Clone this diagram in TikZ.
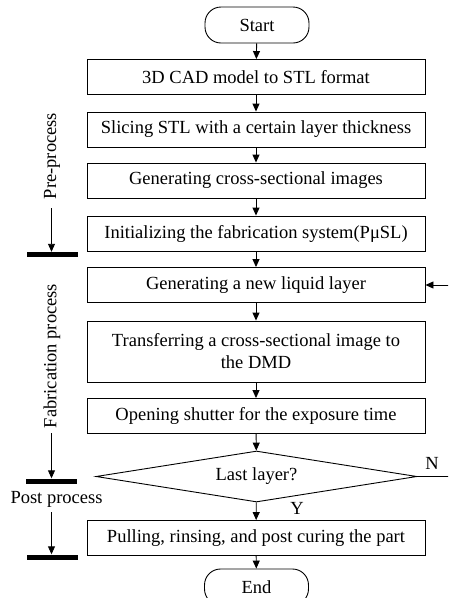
\documentclass[tikz,border=0pt]{standalone}
\usepackage{fontspec}
\setmainfont{Liberation Serif}
\usetikzlibrary{arrows.meta,shapes.geometric}

\tikzset{
  every node/.style={font=\fontsize{18.5}{22}\selectfont},
  proc/.style={draw, line width=0.9pt, minimum width=338pt, minimum height=35pt, inner sep=2pt, align=center},
  term/.style={draw, line width=0.9pt, rounded corners=16pt, minimum width=104pt, minimum height=36pt, inner sep=0pt},
  decide/.style={draw, line width=0.9pt, diamond, aspect=6.3, minimum width=321pt, minimum height=51pt, inner sep=0pt},
  flow/.style={line width=0.9pt, -{Triangle[length=8pt,width=7pt]}},
  stagebar/.style={fill=black, minimum width=51pt, minimum height=5pt, inner sep=0pt},
  stage/.style={inner sep=0pt}
}

\begin{document}
\begin{tikzpicture}[x=1pt, y=-1pt]
\clip (0,0) rectangle (448,598);

% main flow
\node[term] (start) at (257,25) {Start};
\node[proc] (b1) at (256,77) {3D CAD model to STL format};
\node[proc] (b2) at (256,129.5) {Slicing STL with a certain layer thickness};
\node[proc] (b3) at (256,180.5) {Generating cross-sectional images};
\node[proc] (b4) at (256,233.5) {Initializing the fabrication system(PμSL)};
\node[proc] (b5) at (256,285) {Generating a new liquid layer};
\node[proc, minimum height=61pt] (b6) at (256,351.5) {Transferring a cross-sectional image to\\the DMD};
\node[proc] (b7) at (256,416) {Opening shutter for the exposure time};
\node[decide] (dec) at (256.5,476.5) {Last layer?};
\node[proc] (b8) at (256,538) {Pulling, rinsing, and post curing the part};
\node[term] (end) at (256.5,587) {End};

\draw[flow] (start) -- (b1);
\draw[flow] (b1) -- (b2);
\draw[flow] (b2) -- (b3);
\draw[flow] (b3) -- (b4);
\draw[flow] (b4) -- (b5);
\draw[flow] (b5) -- (b6);
\draw[flow] (b6) -- (b7);
\draw[flow] (b7) -- (dec);
\draw[flow] (dec) -- (b8);
\draw[flow] (b8) -- (end);

% loop back for further layers
\coordinate (loop) at (470,476.5);
\draw[flow] (dec.east) -- (loop) |- (b5.east);
\node (nlab) at (432,463) {N};
\node (ylab) at (297,508) {Y};

% process stages on the left
\node[stage, rotate=90] (pre) at (52,156) {Pre-process};
\coordinate (preA) at (51.5,208);
\node[stagebar] (bar1) at (52,254.5) {};
\draw[flow] (preA) -- (preA |- bar1.north);

\node[stage, rotate=90] (fab) at (52,356) {Fabrication process};
\coordinate (fabA) at (51.5,433);
\node[stagebar] (bar2) at (51,481) {};
\draw[flow] (fabA) -- (fabA |- bar2.north);

\node[stage] (post) at (56.5,499) {Post process};
\coordinate (postA) at (51.5,512);
\node[stagebar] (bar3) at (52,557) {};
\draw[flow] (postA) -- (postA |- bar3.north);
\end{tikzpicture}
\end{document}
